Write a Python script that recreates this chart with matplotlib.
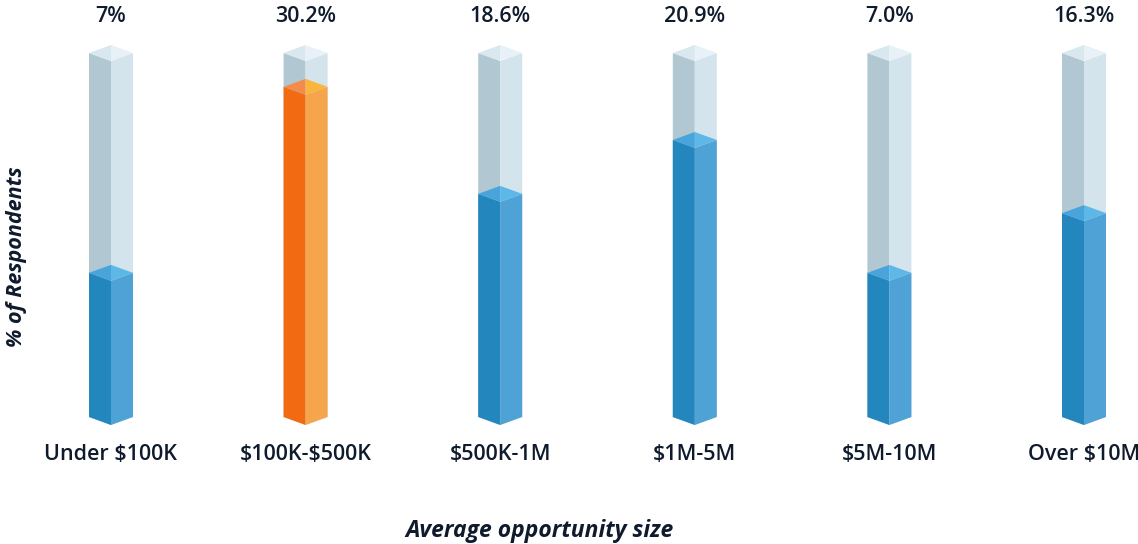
import matplotlib.pyplot as plt
from matplotlib.patches import Polygon

# data
categories = ["Under $100K", "$100K-$500K", "$500K-1M", "$1M-5M", "$5M-10M", "Over $10M"]
value_labels = ["7%", "30.2%", "18.6%", "20.9%", "7.0%", "16.3%"]
fill_levels = [39.6, 90.7, 61.3, 76.1, 39.6, 56.0]  # height of the filled part, % of track
highlight = [False, True, False, False, False, False]
track_max = 100

TEXT = "#0f1b2d"
TRACK = ("#b1c8d2", "#d4e4ed", "#d9e7ef", "#e7f1f7")  # left, right, top-left, top-right
BLUE = ("#2386bd", "#4fa2d5", "#48a4da", "#5db8e7")
ORANGE = ("#f26b12", "#f5a54c", "#f38b4b", "#fab63c")

plt.rcParams["font.family"] = ["Open Sans", "DejaVu Sans"]
plt.rcParams["text.parse_math"] = False

fig = plt.figure(figsize=(11.38, 5.44), dpi=100)
ax = fig.add_axes([0, 127 / 544, 1, 364 / 544])
step = 194.6
ax.set_xlim(-111 / step, (1138 - 111) / step)
ax.set_ylim(0, track_max)
ax.axis("off")

half_w = 22 / step
depth = 8 / 3.64


def prism(ax, x, top, colors, z):
    left, right, top_l, top_r = colors
    ax.add_patch(Polygon([(x - half_w, 0), (x, -depth), (x, top - depth), (x - half_w, top)],
                         closed=True, fc=left, ec="none", zorder=z, clip_on=False))
    ax.add_patch(Polygon([(x, -depth), (x + half_w, 0), (x + half_w, top), (x, top - depth)],
                         closed=True, fc=right, ec="none", zorder=z, clip_on=False))
    ax.add_patch(Polygon([(x - half_w, top), (x, top + depth), (x, top - depth)],
                         closed=True, fc=top_l, ec="none", zorder=z + 0.5, clip_on=False))
    ax.add_patch(Polygon([(x, top + depth), (x + half_w, top), (x, top - depth)],
                         closed=True, fc=top_r, ec="none", zorder=z + 0.5, clip_on=False))


for i, (lvl, hl) in enumerate(zip(fill_levels, highlight)):
    prism(ax, i, track_max, TRACK, 1)
    prism(ax, i, lvl, ORANGE if hl else BLUE, 2)
    ax.annotate(value_labels[i], xy=(i, track_max), xytext=(0, 36 * 0.72),
                textcoords="offset points", ha="center", va="center",
                fontsize=15.5, fontweight="semibold", color=TEXT)
    ax.annotate(categories[i], xy=(i, 0), xytext=(0, -38 * 0.72),
                textcoords="offset points", ha="center", va="center",
                fontsize=15.5, fontweight="semibold", color=TEXT)

fig.text(539 / 1138, 1 - 531 / 544, "Average opportunity size", ha="center", va="center",
         fontsize=16.5, fontweight="bold", fontstyle="italic", color=TEXT)
fig.text(17 / 1138, 1 - 257 / 544, "% of Respondents", ha="center", va="center",
         rotation=90, fontsize=15.5, fontweight="bold", fontstyle="italic", color=TEXT)

fig.savefig("out.png", dpi=100)
